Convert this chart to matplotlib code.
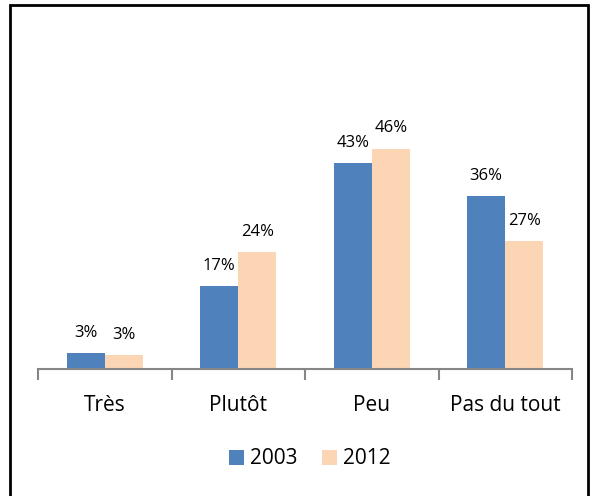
import numpy as np
import matplotlib.pyplot as plt
from matplotlib.patches import Rectangle

categories = ['Très', 'Plutôt', 'Peu', 'Pas du tout']
series_names = ['2003', '2012']
vals_2003 = [3.3, 17.3, 43, 36.1]
vals_2012 = [2.9, 24.4, 46, 26.7]
labels_2003 = ['3%', '17%', '43%', '36%']
labels_2012 = ['3%', '24%', '46%', '27%']

plt.rcParams['font.family'] = ['Open Sans', 'DejaVu Sans']

fig = plt.figure(figsize=(5.97, 4.96), dpi=100)
# chart border
fig.patches.append(Rectangle((10 / 597, -0.02), 578 / 597, 1 - 5 / 496 + 0.02,
                             transform=fig.transFigure, fill=False,
                             edgecolor='black', linewidth=2))

ax = fig.add_axes([38 / 597, 127 / 496, 534 / 597, 287 / 496])
x = np.arange(len(categories))
w = 0.285
b1 = ax.bar(x - w / 2, vals_2003, w, color='#4F81BD', label=series_names[0])
b2 = ax.bar(x + w / 2, vals_2012, w, color='#FCD5B5', label=series_names[1])

for bars, labs in ((b1, labels_2003), (b2, labels_2012)):
    for r, t in zip(bars, labs):
        ax.annotate(t, (r.get_x() + r.get_width() / 2, r.get_height()),
                    xytext=(0, 9), textcoords='offset points',
                    ha='center', va='bottom', fontsize=12)

ax.set_xlim(-0.5, 3.5)
ax.set_ylim(0, 60)
ax.set_yticks([])
for s in ['top', 'right', 'left']:
    ax.spines[s].set_visible(False)
ax.spines['bottom'].set_color('#868686')
ax.spines['bottom'].set_linewidth(1.5)
ax.set_xticks(x)
ax.set_xticklabels(categories, fontsize=15)
ax.set_xticks(np.arange(-0.5, 4, 1), minor=True)
ax.tick_params(axis='x', which='major', length=0, pad=19)
ax.tick_params(axis='x', which='minor', length=8, width=1.5, color='#868686')

fig.legend(handles=[b1, b2], loc='center', bbox_to_anchor=(310 / 597, 37 / 496),
           ncol=2, frameon=False, fontsize=15, handlelength=0.7, handleheight=0.7,
           handletextpad=0.3, columnspacing=1.2)

plt.savefig('out.png', dpi=100)
